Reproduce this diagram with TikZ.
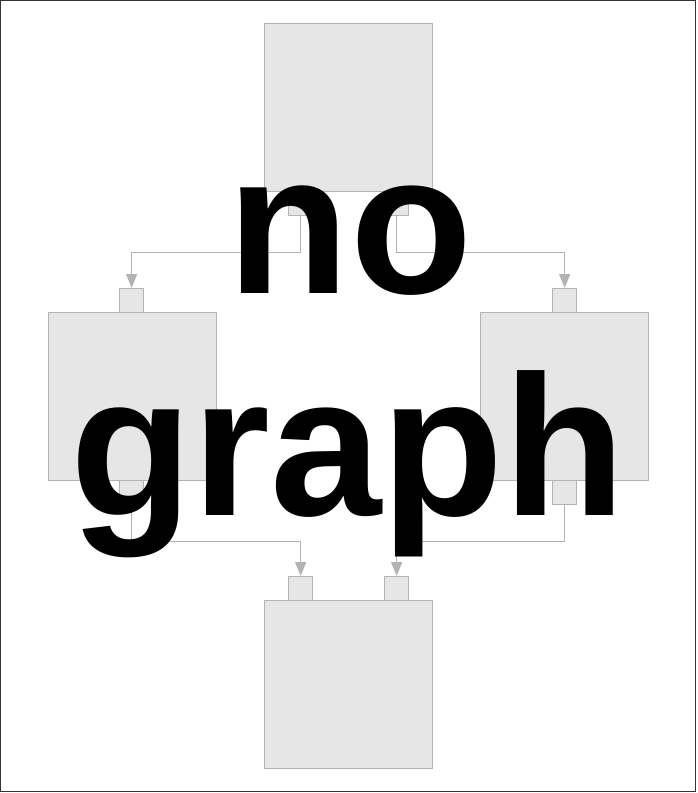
\documentclass[tikz,border=0pt]{standalone}
\usepackage{fontspec}
\setmainfont{Liberation Sans}
\usetikzlibrary{arrows.meta}
\definecolor{boxfill}{HTML}{E6E6E6}
\definecolor{boxline}{HTML}{B3B3B3}
\definecolor{frameline}{HTML}{333333}
\tikzset{
  bigbox/.style={draw=boxline, fill=boxfill, line width=1.3pt, minimum width=168pt, minimum height=168pt, inner sep=0pt, anchor=north west},
  portbox/.style={draw=boxline, fill=boxfill, line width=1.3pt, minimum width=24pt, minimum height=24pt, inner sep=0pt, anchor=north west},
  conn/.style={draw=boxline, line width=1.3pt, -{Triangle[length=14pt,width=11pt]}},
  bigtext/.style={font=\bfseries\fontsize{200}{222}\selectfont, text=black, anchor=base, inner sep=0pt}
}
\begin{document}
\begin{tikzpicture}[x=1pt,y=-1pt]
\useasboundingbox (0,0) rectangle (697,793);
\draw[frameline, line width=1.2pt] (0.6,0.6) rectangle (695.6,791.6);
% boxes
\node[bigbox] (top) at (264,23) {};
\node[bigbox] (left) at (48,312) {};
\node[bigbox] (right) at (480,312) {};
\node[bigbox] (bot) at (264,600) {};
% ports
\node[portbox] (topA) at (288,191) {};
\node[portbox] (topB) at (384,191) {};
\node[portbox] (leftIn) at (119,288) {};
\node[portbox] (rightIn) at (552,288) {};
\node[portbox] (leftOut) at (119,480) {};
\node[portbox] (rightOut) at (552,480) {};
\node[portbox] (botA) at (288,576) {};
\node[portbox] (botB) at (384,576) {};
% connectors
\draw[conn] (topA.south) -- ++(0,36) -| (leftIn.north);
\draw[conn] (topB.south) -- ++(0,36) -| (rightIn.north);
\draw[conn] (leftOut.south) -- ++(0,36) -| (botA.north);
\draw[conn] (rightOut.south) -- ++(0,36) -| (botB.north);
% overlay text
\node[bigtext] (t1) at (350,293) {no};
\node[bigtext] (t2) at (348,515) {graph};
\end{tikzpicture}
\end{document}
